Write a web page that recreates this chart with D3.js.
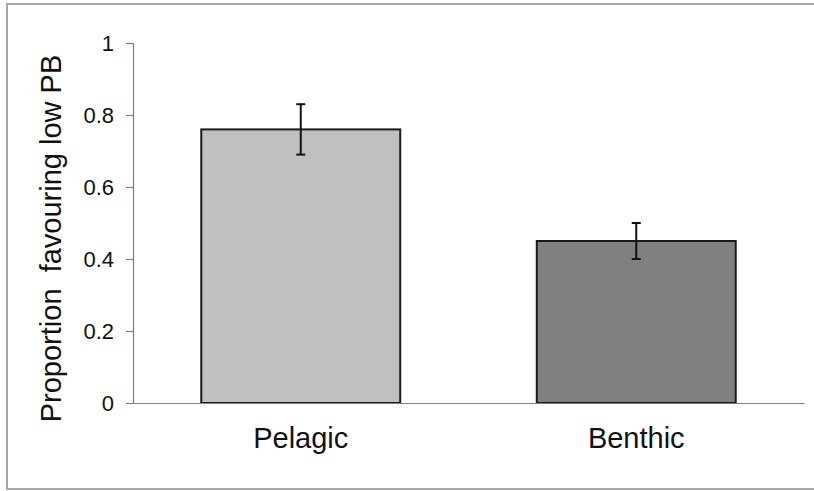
<!DOCTYPE html>
<html>
<head>
<meta charset="utf-8">
<script src="https://cdn.jsdelivr.net/npm/d3@7"></script>
<style>
  html, body { margin: 0; padding: 0; background: #fff; }
  svg { display: block; }
</style>
</head>
<body>
<svg id="chart" width="814" height="491"></svg>
<script>
const categories = ["Pelagic", "Benthic"];
const values = [0.76, 0.45];
const errors = [0.07, 0.05];
const barColors = ["#c0c0c0", "#808080"];
const yTicks = [0, 0.2, 0.4, 0.6, 0.8, 1];
const yTickLabels = ["0", "0.2", "0.4", "0.6", "0.8", "1"];
const yTitle = "Proportion\u00a0\u00a0favouring low PB";

const svg = d3.select("#chart");
const font = "'Liberation Sans', Arial, sans-serif";

// outer frame
svg.append("path")
  .attr("d", "M7,490 L7,4 L814,4 M7,489 L814,489")
  .attr("fill", "none")
  .attr("stroke", "#a6a6a6")
  .attr("stroke-width", 2);

const x = d3.scaleBand()
  .domain(categories)
  .range([133, 804])
  .paddingInner(0.407)
  .paddingOuter(0.2035);

const y = d3.scaleLinear().domain([0, 1]).range([403, 43]);

// y axis
const yAxis = d3.axisLeft(y)
  .tickValues(yTicks)
  .tickFormat((d, i) => yTickLabels[i])
  .tickSize(7)
  .tickPadding(12);
const gy = svg.append("g").attr("transform", "translate(133,0)").call(yAxis);
gy.select(".domain").attr("stroke", "#808080").attr("stroke-width", 1.2);
gy.selectAll(".tick line").attr("stroke", "#808080").attr("stroke-width", 1.2);
gy.selectAll(".tick text")
  .attr("font-family", font)
  .attr("font-size", 22)
  .attr("fill", "#111");

// bars
svg.append("g").selectAll("rect")
  .data(categories)
  .join("rect")
  .attr("x", d => x(d))
  .attr("y", (d, i) => y(values[i]))
  .attr("width", x.bandwidth())
  .attr("height", (d, i) => y(0) - y(values[i]))
  .attr("fill", (d, i) => barColors[i])
  .attr("stroke", "#1a1a1a")
  .attr("stroke-width", 2);

// x axis line
const xAxis = d3.axisBottom(x).tickSize(0).tickPadding(30);
const gx = svg.append("g").attr("transform", "translate(0,403)").call(xAxis);
gx.select(".domain").attr("stroke", "#808080").attr("stroke-width", 1.2);
gx.selectAll(".tick text")
  .attr("font-family", font)
  .attr("font-size", 29)
  .attr("fill", "#111")
  .attr("dy", null)
  .attr("y", 45);

// error bars
const eg = svg.append("g").attr("stroke", "#111").attr("stroke-width", 2);
categories.forEach((c, i) => {
  const cx = x(c) + x.bandwidth() / 2;
  const top = y(values[i] + errors[i]);
  const bot = y(values[i] - errors[i]);
  eg.append("line").attr("x1", cx).attr("x2", cx).attr("y1", top).attr("y2", bot);
  eg.append("line").attr("x1", cx - 4.5).attr("x2", cx + 4.5).attr("y1", top).attr("y2", top);
  eg.append("line").attr("x1", cx - 4.5).attr("x2", cx + 4.5).attr("y1", bot).attr("y2", bot);
});

// y title
svg.append("text")
  .attr("transform", "translate(61,238.5) rotate(-90)")
  .attr("text-anchor", "middle")
  .attr("font-family", font)
  .attr("font-size", 29)
  .attr("fill", "#111")
  .text(yTitle);
</script>
</body>
</html>
